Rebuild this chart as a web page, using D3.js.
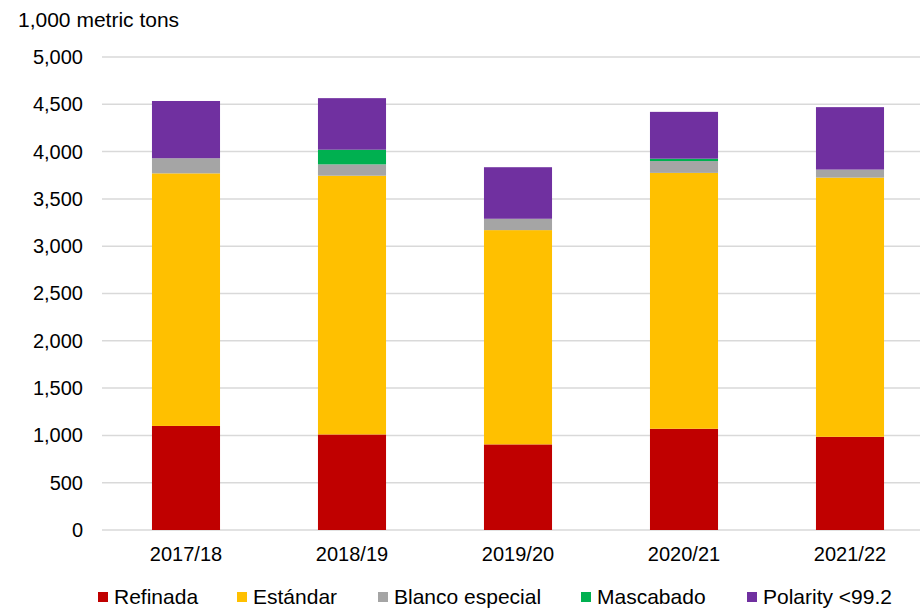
<!DOCTYPE html>
<html>
<head>
<meta charset="utf-8">
<script src="https://cdn.jsdelivr.net/npm/d3@7"></script>
<style>
  body { margin: 0; background: #fff; }
  svg { font-family: "Liberation Sans", Arial, sans-serif; }
</style>
</head>
<body>
<div id="chart"></div>
<script>
// Sugar production by type, 1,000 metric tons
const seasons = ["2017/18", "2018/19", "2019/20", "2020/21", "2021/22"];
const seriesNames = ["Refinada", "Estándar", "Blanco especial", "Mascabado", "Polarity <99.2"];
const refinada = [1100, 1010, 905, 1070, 985];
const estandar = [2670, 2735, 2265, 2705, 2740];
const blanco = [160, 120, 120, 125, 85];
const mascabado = [0, 155, 0, 25, 0];
const polarity = [605, 545, 545, 495, 660];
const yTicks = [0, 500, 1000, 1500, 2000, 2500, 3000, 3500, 4000, 4500, 5000];
const colors = ["#C00000", "#FFC000", "#A5A5A5", "#00B050", "#7030A0"];

const width = 922, height = 609;
const allSeries = [refinada, estandar, blanco, mascabado, polarity];

// build rows for d3.stack
const rows = seasons.map((s, i) => {
  const r = { season: s };
  seriesNames.forEach((n, k) => { r[n] = allSeries[k][i]; });
  return r;
});
const stacked = d3.stack().keys(seriesNames)(rows);

const svg = d3.select("#chart").append("svg")
  .attr("width", width)
  .attr("height", height);

const x = d3.scaleBand()
  .domain(seasons)
  .range([103, 933])
  .paddingInner(0.59)
  .paddingOuter(0.295);

const y = d3.scaleLinear()
  .domain([0, 5000])
  .range([530, 57]);

// gridlines
svg.append("g")
  .selectAll("line")
  .data(yTicks)
  .join("line")
  .attr("x1", 102)
  .attr("x2", 920)
  .attr("y1", d => y(d))
  .attr("y2", d => y(d))
  .attr("stroke", "#d9d9d9")
  .attr("stroke-width", 1.5);

// y axis labels
const yAxis = svg.append("g")
  .attr("transform", "translate(90,0)")
  .call(d3.axisLeft(y).tickValues(yTicks).tickSize(0).tickPadding(7).tickFormat(d3.format(",")));
yAxis.select(".domain").remove();
yAxis.selectAll("text")
  .attr("font-size", 20)
  .attr("font-family", "Liberation Sans, Arial, sans-serif")
  .attr("fill", "#000");

// x axis labels
const xAxis = svg.append("g")
  .attr("transform", "translate(0,530)")
  .call(d3.axisBottom(x).tickSize(0).tickPadding(17));
xAxis.select(".domain").remove();
xAxis.selectAll("text")
  .attr("font-size", 20)
  .attr("font-family", "Liberation Sans, Arial, sans-serif")
  .attr("fill", "#000");

// bars
svg.append("g")
  .selectAll("g")
  .data(stacked)
  .join("g")
  .attr("fill", (d, i) => colors[i])
  .selectAll("rect")
  .data(d => d)
  .join("rect")
  .attr("x", d => x(d.data.season))
  .attr("y", d => y(d[1]))
  .attr("width", x.bandwidth())
  .attr("height", d => y(d[0]) - y(d[1]));

// unit title
svg.append("text")
  .attr("x", 18)
  .attr("y", 27)
  .attr("font-size", 21)
  .attr("fill", "#000")
  .text("1,000 metric tons");

// legend
const legendX = [114, 253, 394, 597, 763];
const legend = svg.append("g")
  .selectAll("g")
  .data(seriesNames)
  .join("g")
  .attr("transform", (d, i) => `translate(${legendX[i]},604)`);
legend.append("rect")
  .attr("x", -16)
  .attr("y", -12)
  .attr("width", 10)
  .attr("height", 10)
  .attr("fill", (d, i) => colors[i]);
legend.append("text")
  .attr("x", 0)
  .attr("y", 0)
  .attr("font-size", 21)
  .attr("fill", "#000")
  .text(d => d);
</script>
</body>
</html>
